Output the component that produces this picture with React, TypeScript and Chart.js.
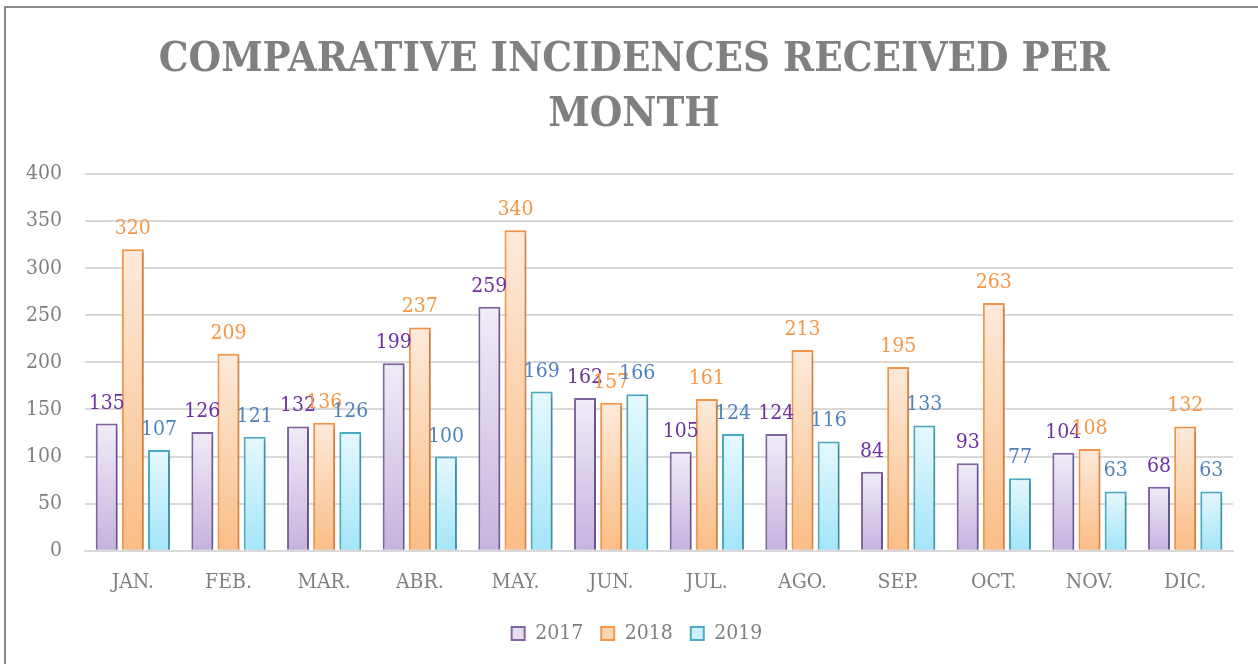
import React, { useEffect, useRef } from "react";
import { Chart, registerables } from "chart.js";

Chart.register(...registerables);

const months = ["JAN.", "FEB.", "MAR.", "ABR.", "MAY.", "JUN.", "JUL.", "AGO.", "SEP.", "OCT.", "NOV.", "DIC."];
const seriesNames = ["2017", "2018", "2019"];
const values2017 = [135, 126, 132, 199, 259, 162, 105, 124, 84, 93, 104, 68];
const values2018 = [320, 209, 136, 237, 340, 157, 161, 213, 195, 263, 108, 132];
const values2019 = [107, 121, 126, 100, 169, 166, 124, 116, 133, 77, 63, 63];
const yTicks = [0, 50, 100, 150, 200, 250, 300, 350, 400];
const titleLines = ["COMPARATIVE INCIDENCES RECEIVED PER", "MONTH"];

const SERIF = '"DejaVu Serif Condensed", "DejaVu Serif", serif';

const styles = [
  { top: "#f1ecf7", bottom: "#c5b3e0", border: "#8064a2", label: "#7030a0", legend: "#e4dcf0" },
  { top: "#fdeadb", bottom: "#fbbd86", border: "#f79646", label: "#f79646", legend: "#fdd6b6" },
  { top: "#e6f8fd", bottom: "#a3e5f8", border: "#4bacc6", label: "#4f81bd", legend: "#cdf1fb" },
];

const dataLabels = {
  id: "dataLabels",
  afterDatasetsDraw(chart: any) {
    const ctx = chart.ctx;
    ctx.save();
    ctx.font = `21px ${SERIF}`;
    ctx.textAlign = "center";
    ctx.textBaseline = "alphabetic";
    chart.data.datasets.forEach((ds: any, i: number) => {
      const meta = chart.getDatasetMeta(i);
      ctx.fillStyle = styles[i].label;
      meta.data.forEach((el: any, j: number) => {
        ctx.fillText(String(ds.data[j]), el.x, el.y - 15);
      });
    });
    ctx.restore();
  },
};

const barShadow = {
  id: "barShadow",
  beforeDatasetsDraw(chart: any) {
    const ctx = chart.ctx;
    ctx.save();
    ctx.shadowColor = "rgba(0,0,0,0.22)";
    ctx.shadowBlur = 4;
    ctx.shadowOffsetX = 2;
    ctx.shadowOffsetY = 2;
  },
  afterDatasetsDraw(chart: any) {
    chart.ctx.restore();
  },
};

// Centre the title and legend slightly right of the canvas centre, as in the reference.
const shiftBlocks = {
  id: "shiftBlocks",
  afterLayout(chart: any) {
    if (chart.titleBlock) chart.titleBlock.left = 35;
    if (chart.legend) chart.legend.left = 41;
  },
};

function gradientFor(i: number) {
  return (c: any) => {
    const chart = c.chart;
    const y = chart.scales && chart.scales.y;
    if (!y || c.parsed == null || c.type !== "data") return styles[i].legend;
    const top = y.getPixelForValue(c.parsed.y);
    const bottom = y.getPixelForValue(0);
    if (!isFinite(top) || !isFinite(bottom) || top === bottom) return styles[i].legend;
    const g = chart.ctx.createLinearGradient(0, top, 0, bottom);
    g.addColorStop(0, styles[i].top);
    g.addColorStop(1, styles[i].bottom);
    return g;
  };
}

export default function App() {
  const ref = useRef<HTMLCanvasElement | null>(null);
  useEffect(() => {
    document.body.style.margin = "0";
    const seriesValues = [values2017, values2018, values2019];
    const chart = new Chart(ref.current as HTMLCanvasElement, {
      type: "bar",
      data: {
        labels: months,
        datasets: seriesNames.map((name, i) => ({
          label: name,
          data: seriesValues[i],
          backgroundColor: gradientFor(i),
          borderColor: styles[i].border,
          borderWidth: 2,
          categoryPercentage: 0.82,
          barPercentage: 0.84,
        })),
      },
      options: {
        animation: false,
        responsive: false,
        maintainAspectRatio: false,
        layout: { padding: { left: 0, right: 25, top: 0, bottom: 10 } },
        plugins: {
          tooltip: { enabled: false },
          title: {
            display: true,
            text: titleLines,
            color: "#808080",
            font: { family: SERIF, size: 41.6, weight: "bold", lineHeight: 1.32 },
            padding: { top: 33, bottom: 31 },
          },
          legend: {
            position: "bottom",
            labels: {
              color: "#7f7f7f",
              font: { family: SERIF, size: 21 },
              boxWidth: 13,
              boxHeight: 13,
              padding: 18,
              generateLabels: (ch: any) =>
                ch.data.datasets.map((ds: any, i: number) => ({
                  text: ds.label,
                  fillStyle: styles[i].legend,
                  strokeStyle: styles[i].border,
                  lineWidth: 2,
                  fontColor: "#7f7f7f",
                  datasetIndex: i,
                  hidden: false,
                })),
            },
          },
        },
        scales: {
          x: {
            grid: { display: false, drawTicks: false },
            border: { display: true, color: "#d9d9d9", width: 2 },
            ticks: { color: "#7f7f7f", font: { family: SERIF, size: 21 }, padding: 19 },
            afterFit: (s: any) => {
              s.height = s.height - 9;
            },
          },
          y: {
            min: 0,
            max: 400,
            afterBuildTicks: (s: any) => {
              s.ticks = yTicks.map((v) => ({ value: v }));
            },
            afterFit: (s: any) => {
              s.width = 85;
            },
            grid: { color: "#d9d9d9", lineWidth: 2, drawTicks: false },
            border: { display: false },
            ticks: { color: "#7f7f7f", font: { family: SERIF, size: 21 }, padding: 23 },
          },
        },
      },
      plugins: [barShadow, dataLabels, shiftBlocks],
    });
    return () => chart.destroy();
  }, []);
  return (
    <div style={{ position: "relative", width: 1258, height: 664, overflow: "hidden", background: "#fff" }}>
      <canvas ref={ref} width={1258} height={664} style={{ position: "absolute", left: 0, top: 0 }} />
      <div
        style={{
          position: "absolute",
          left: 4,
          top: 6,
          width: 1300,
          height: 700,
          borderLeft: "2px solid #8a8a8a",
          borderTop: "2px solid #8a8a8a",
          pointerEvents: "none",
        }}
      />
    </div>
  );
}
